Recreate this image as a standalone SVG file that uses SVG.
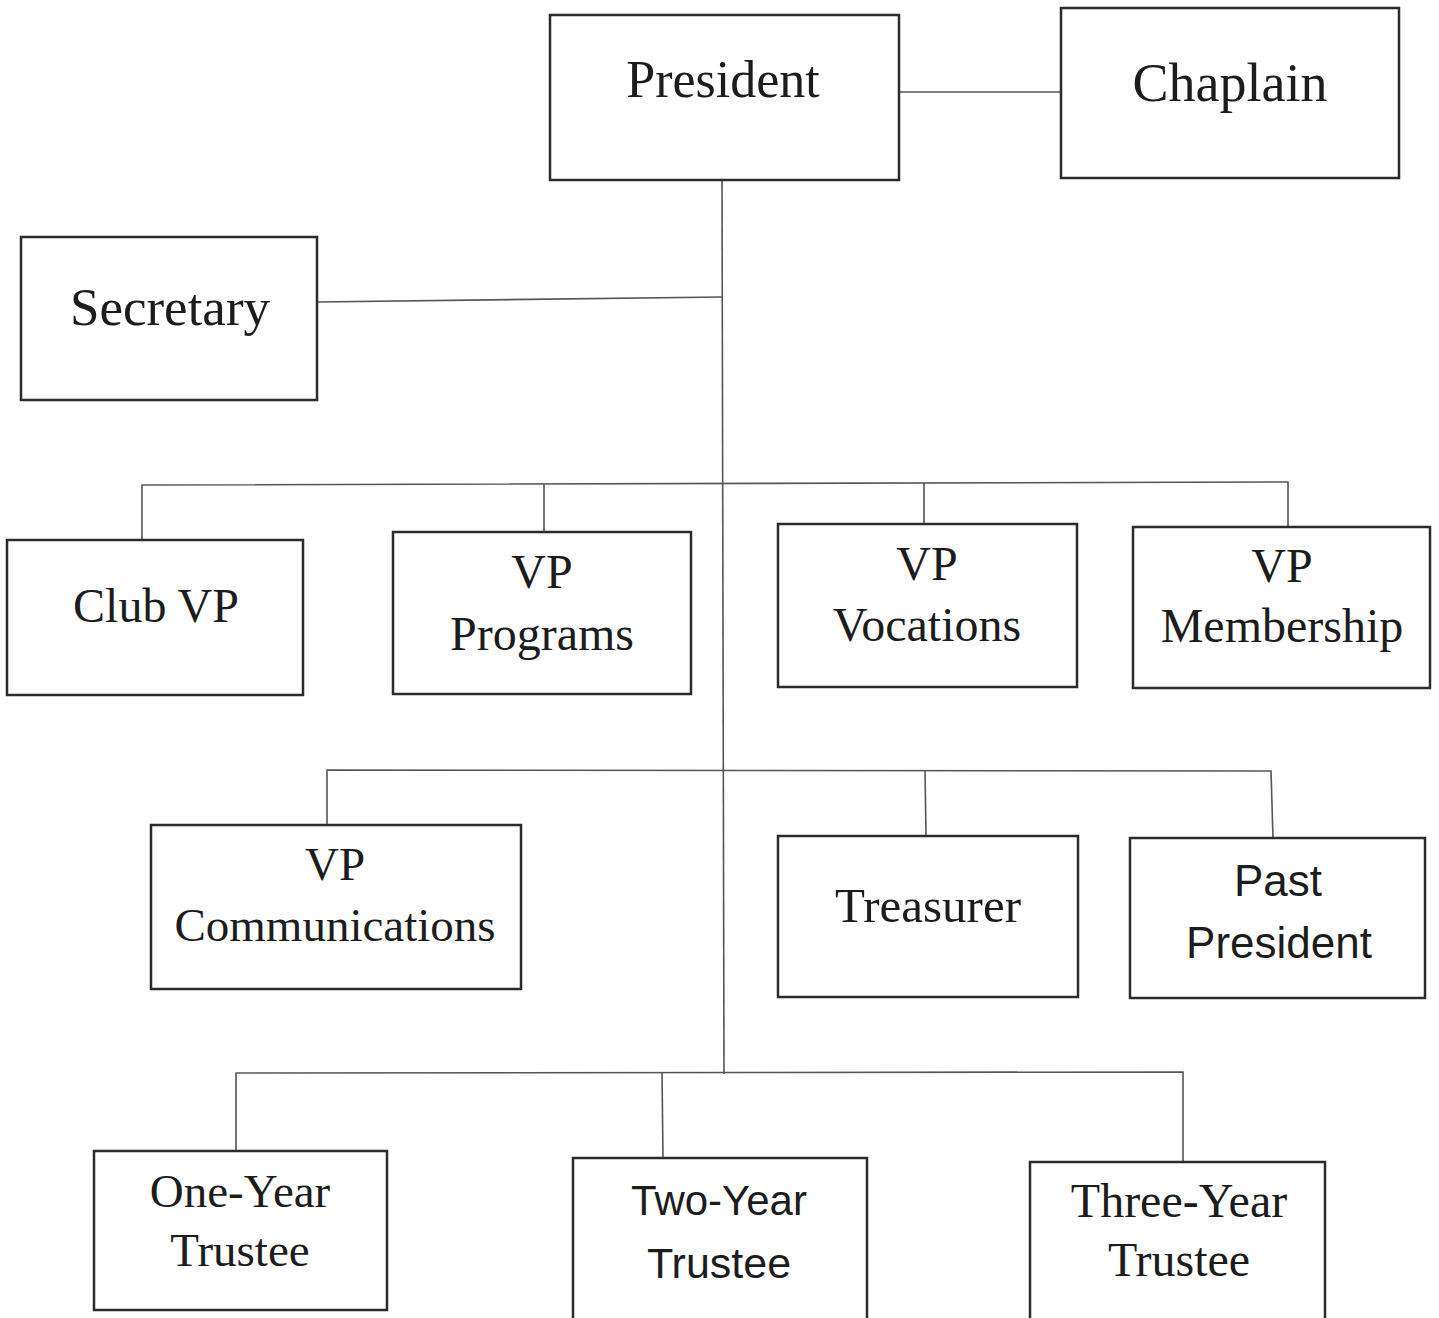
<svg xmlns="http://www.w3.org/2000/svg" width="1439" height="1318" viewBox="0 0 1439 1318">
<style>
.box{fill:#fff;stroke:#2b2b2b;stroke-width:2.5}
.ln{fill:none;stroke:#555;stroke-width:1.6}
.s{font-family:"Liberation Serif","Times New Roman",serif;fill:#1c1c1c;text-anchor:middle}
.a{font-family:"Liberation Sans",Arial,sans-serif;fill:#1c1c1c;text-anchor:middle}
</style>
<rect width="1439" height="1318" fill="#fff"/>
<g id="connectors">
<line class="ln" x1="899" y1="92" x2="1061" y2="92"/>
<line class="ln" x1="317" y1="302" x2="722" y2="297"/>
<line class="ln" x1="722" y1="180" x2="724" y2="1074"/>
<polyline class="ln" points="142,540 142,485 1288,482 1288,527"/>
<line class="ln" x1="544" y1="484" x2="544" y2="532"/>
<line class="ln" x1="924" y1="483" x2="924" y2="524"/>
<polyline class="ln" points="327,825 327,770 1271,771 1273,838"/>
<line class="ln" x1="925" y1="770" x2="926" y2="836"/>
<polyline class="ln" points="236,1151 236,1073 1183,1072 1183,1162"/>
<line class="ln" x1="662" y1="1073" x2="663" y2="1158"/>
</g>
<g id="president"><rect class="box" x="550" y="15" width="349" height="165"/><text class="s" x="723" y="97" font-size="52">President</text></g>
<g id="chaplain"><rect class="box" x="1061" y="8" width="338" height="170"/><text class="s" x="1230" y="101" font-size="54">Chaplain</text></g>
<g id="secretary"><rect class="box" x="21" y="237" width="296" height="163"/><text class="s" x="170" y="325" font-size="53">Secretary</text></g>
<g id="club-vp"><rect class="box" x="7" y="540" width="296" height="155"/><text class="s" x="156" y="622" font-size="48">Club VP</text></g>
<g id="vp-programs"><rect class="box" x="393" y="532" width="298" height="162"/><text class="s" x="542" y="588" font-size="48">VP</text><text class="s" x="542" y="650" font-size="48">Programs</text></g>
<g id="vp-vocations"><rect class="box" x="778" y="524" width="299" height="163"/><text class="s" x="927" y="580" font-size="48">VP</text><text class="s" x="927" y="641" font-size="48">Vocations</text></g>
<g id="vp-membership"><rect class="box" x="1133" y="527" width="297" height="161"/><text class="s" x="1282" y="582" font-size="48">VP</text><text class="s" x="1282" y="642" font-size="48">Membership</text></g>
<g id="vp-communications"><rect class="box" x="151" y="825" width="370" height="164"/><text class="s" x="335" y="880" font-size="47">VP</text><text class="s" x="335" y="941" font-size="47">Communications</text></g>
<g id="treasurer"><rect class="box" x="778" y="836" width="300" height="161"/><text class="s" x="928" y="922" font-size="49">Treasurer</text></g>
<g id="past-president"><rect class="box" x="1130" y="838" width="295" height="160"/><text class="a" x="1278" y="896" font-size="44">Past</text><text class="a" x="1279" y="958" font-size="44">President</text></g>
<g id="one-year-trustee"><rect class="box" x="94" y="1151" width="293" height="159"/><text class="s" x="240" y="1207" font-size="47">One-Year</text><text class="s" x="240" y="1266" font-size="47">Trustee</text></g>
<g id="two-year-trustee"><rect class="box" x="573" y="1158" width="294" height="170"/><text class="a" x="719" y="1215" font-size="42">Two-Year</text><text class="a" x="719" y="1278" font-size="43">Trustee</text></g>
<g id="three-year-trustee"><rect class="box" x="1030" y="1162" width="295" height="166"/><text class="s" x="1179" y="1217" font-size="48">Three-Year</text><text class="s" x="1179" y="1276" font-size="48">Trustee</text></g>
</svg>
